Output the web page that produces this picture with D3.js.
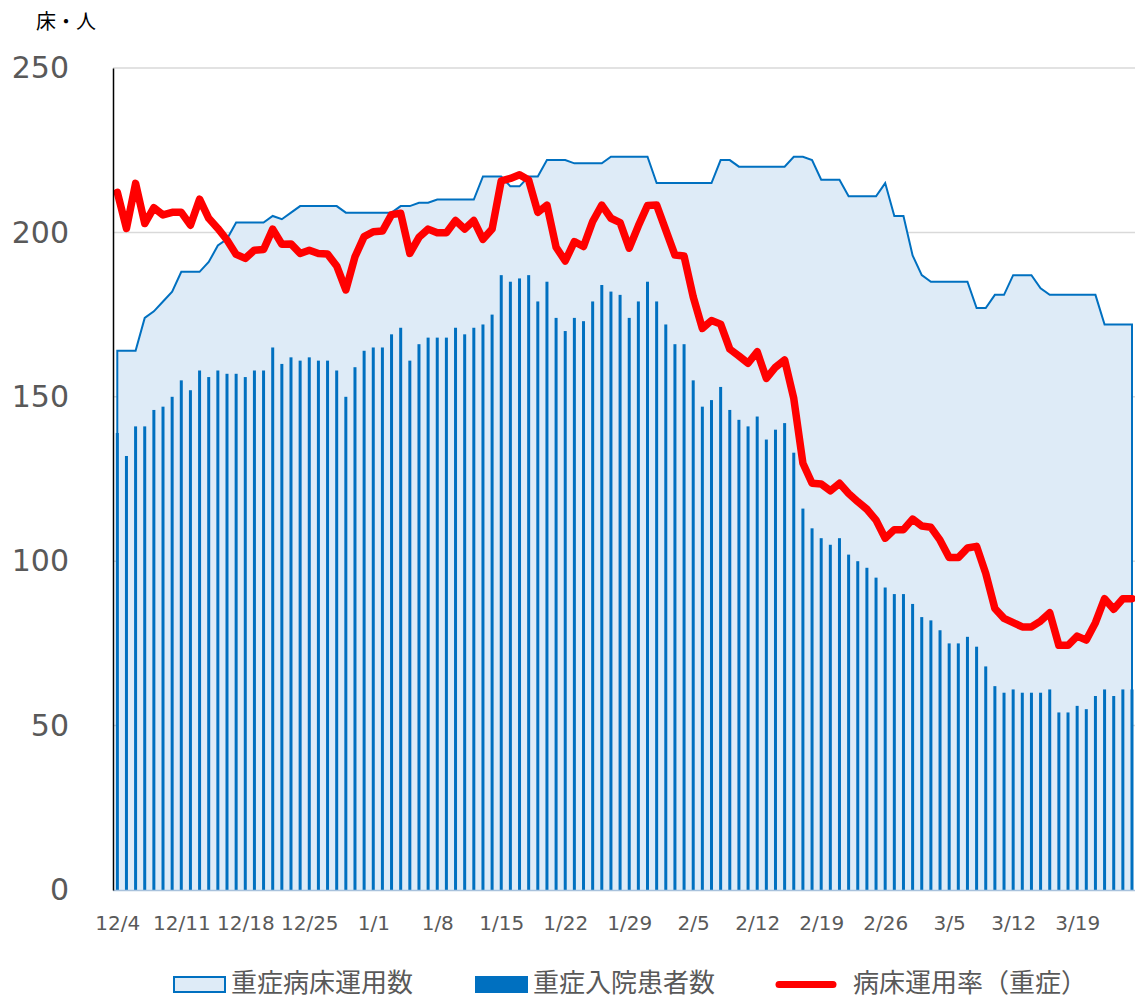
<!DOCTYPE html>
<html><head><meta charset="utf-8">
<script src="https://cdn.jsdelivr.net/npm/d3@7"></script>
<style>
html,body{margin:0;padding:0;background:#fff;}
svg{display:block;}
</style></head>
<body>
<svg id="chart" width="1135" height="999"></svg>
<script>
// ---- data ----
const dates = d3.timeDays(new Date(2020, 11, 4), new Date(2021, 2, 26)).map(d3.timeFormat("%-m/%-d"));
const tickLabels = ["12/4","12/11","12/18","12/25","1/1","1/8","1/15","1/22","1/29","2/5","2/12","2/19","2/26","3/5","3/12","3/19"];
const yTicks = [0, 50, 100, 150, 200, 250];

// 重症病床運用数
const beds = [
  164,164,164,174,176,179,182,188,188,188,
  191,196,198,203,203,203,203,205,204,206,
  208,208,208,208,208,206,206,206,206,206,
  206,208,208,209,209,210,210,210,210,210,
  217,217,217,214,214,217,217,222,222,222,
  221,221,221,221,223,223,223,223,223,215,
  215,215,215,215,215,215,222,222,220,220,
  220,220,220,220,223,223,222,216,216,216,
  211,211,211,211,215,205,205,193,187,185,
  185,185,185,185,177,177,181,181,187,187,
  187,183,181,181,181,181,181,181,172,172,172,172
];
// 重症入院患者数
const patients = [
  139,132,141,141,146,147,150,155,152,158,
  156,158,157,157,156,158,158,165,160,162,
  161,162,161,161,158,150,159,164,165,165,
  169,171,161,166,168,168,168,171,169,171,
  172,175,187,185,186,187,179,185,174,170,
  174,173,179,184,182,181,174,179,185,179,
  172,166,166,155,147,149,153,146,143,141,
  144,137,140,142,133,116,110,107,105,107,
  102,100,98,95,92,90,90,87,83,82,
  79,75,75,77,74,68,62,60,61,60,
  60,60,61,54,54,56,55,59,61,59,61,61
];
// 病床運用率（重症）
const rate = [
  212.2,201.2,214.9,202.7,207.5,205.3,206.1,206.1,202.2,210.1,
  204.3,201.2,197.7,193.3,192.1,194.6,194.8,201.0,196.4,196.5,
  193.6,194.6,193.6,193.4,189.8,182.5,192.6,198.7,200.2,200.4,
  205.4,205.8,193.6,198.5,201.0,199.9,199.9,203.6,201.0,203.6,
  197.9,201.0,215.7,216.4,217.5,215.9,206.1,208.3,195.5,191.3,
  197.2,195.7,203.3,208.3,204.3,203.0,195.2,202.0,208.2,208.3,
  200.7,193.1,192.8,180.4,170.8,173.2,172.1,164.5,162.4,160.2,
  163.7,155.6,159.0,161.2,149.5,129.8,123.7,123.5,121.4,123.7,
  120.6,118.1,115.8,112.5,107.0,109.6,109.6,112.8,110.7,110.3,
  106.4,101.1,101.1,104.0,104.5,96.3,85.6,82.6,81.3,80.0,
  80.0,81.8,84.3,74.4,74.4,77.2,76.0,81.3,88.6,85.4,88.6,88.6
];
const legendLabels = ["重症病床運用数", "重症入院患者数", "病床運用率（重症）"];
const yUnit = "床・人";

// ---- drawing ----
const svg = d3.select("#chart");
const x = d3.scalePoint().domain(dates).range([117.3, 1132]);
const y = d3.scaleLinear().domain([0, 250]).range([890, 68]);
const BLUE = "#0070c0", FILL = "#deebf7", RED = "#ff0000", GRAY = "#595959";

// gridlines
svg.append("g").selectAll("line").data(yTicks.filter(t => t > 0)).join("line")
  .attr("x1", 113).attr("x2", 1135)
  .attr("y1", d => y(d)).attr("y2", d => y(d))
  .attr("stroke", "#d9d9d9").attr("stroke-width", 1.5);

// area
const area = d3.area().x((d, i) => x(dates[i])).y0(y(0)).y1(d => y(d));
svg.append("path").datum(beds).attr("d", area).attr("fill", FILL);
const edgePts = [[x(dates[0]), y(0)]]
  .concat(beds.map((d, i) => [x(dates[i]), y(d)]))
  .concat([[x(dates[dates.length - 1]), y(0)]]);
svg.append("path").attr("d", d3.line()(edgePts))
  .attr("fill", "none").attr("stroke", BLUE).attr("stroke-width", 2);

// bars
svg.append("g").selectAll("rect").data(patients).join("rect")
  .attr("x", (d, i) => x(dates[i]) - 1.5)
  .attr("width", 3)
  .attr("y", d => y(d))
  .attr("height", d => y(0) - y(d))
  .attr("fill", BLUE);

// x axis line
svg.append("line").attr("x1", 113).attr("x2", 1135).attr("y1", 890.5).attr("y2", 890.5)
  .attr("stroke", "#a9c2dc").attr("stroke-width", 1.5);

// red line
svg.append("path").datum(rate)
  .attr("d", d3.line().x((d, i) => x(dates[i])).y(d => y(d)))
  .attr("fill", "none").attr("stroke", RED).attr("stroke-width", 7.5)
  .attr("stroke-linejoin", "round").attr("stroke-linecap", "round");

// y axis
const yAxis = d3.axisLeft(y).tickValues(yTicks).tickSize(0).tickPadding(0);
const gy = svg.append("g").attr("transform", "translate(113,0)").call(yAxis);
gy.select(".domain").attr("stroke", "#000").attr("stroke-width", 1.5);
gy.selectAll("text").attr("x", -44).attr("fill", GRAY)
  .style("font-family", "'DejaVu Sans', Verdana, sans-serif").style("font-size", "30px");

// x axis labels
const xAxis = d3.axisBottom(x).tickValues(tickLabels).tickSize(0).tickPadding(0);
const gx = svg.append("g").attr("transform", "translate(0,890)").call(xAxis);
gx.select(".domain").remove();
gx.selectAll("text").attr("y", 33).attr("dy", "0.35em").attr("fill", GRAY)
  .style("font-family", "'DejaVu Sans', Verdana, sans-serif").style("font-size", "20px");

// unit label
svg.append("text").attr("x", 36).attr("y", 20).attr("dominant-baseline", "central")
  .attr("fill", "#000").style("font-family", "'Noto Sans CJK JP', sans-serif").style("font-size", "20px")
  .text(yUnit);

// legend
const lg = svg.append("g").style("font-family", "'Noto Sans CJK JP', sans-serif").style("font-size", "26px");
lg.append("rect").attr("x", 174).attr("y", 977).attr("width", 51).attr("height", 15)
  .attr("fill", FILL).attr("stroke", BLUE).attr("stroke-width", 2);
lg.append("text").attr("x", 231).attr("y", 980).attr("dominant-baseline", "central").attr("fill", GRAY).text(legendLabels[0]);
lg.append("rect").attr("x", 475).attr("y", 976).attr("width", 53).attr("height", 17).attr("fill", BLUE);
lg.append("text").attr("x", 533).attr("y", 980).attr("dominant-baseline", "central").attr("fill", GRAY).text(legendLabels[1]);
lg.append("line").attr("x1", 779).attr("x2", 833).attr("y1", 984.5).attr("y2", 984.5)
  .attr("stroke", RED).attr("stroke-width", 7).attr("stroke-linecap", "round");
lg.append("text").attr("x", 853).attr("y", 980).attr("dominant-baseline", "central").attr("fill", GRAY).text(legendLabels[2]);
</script>
</body></html>
